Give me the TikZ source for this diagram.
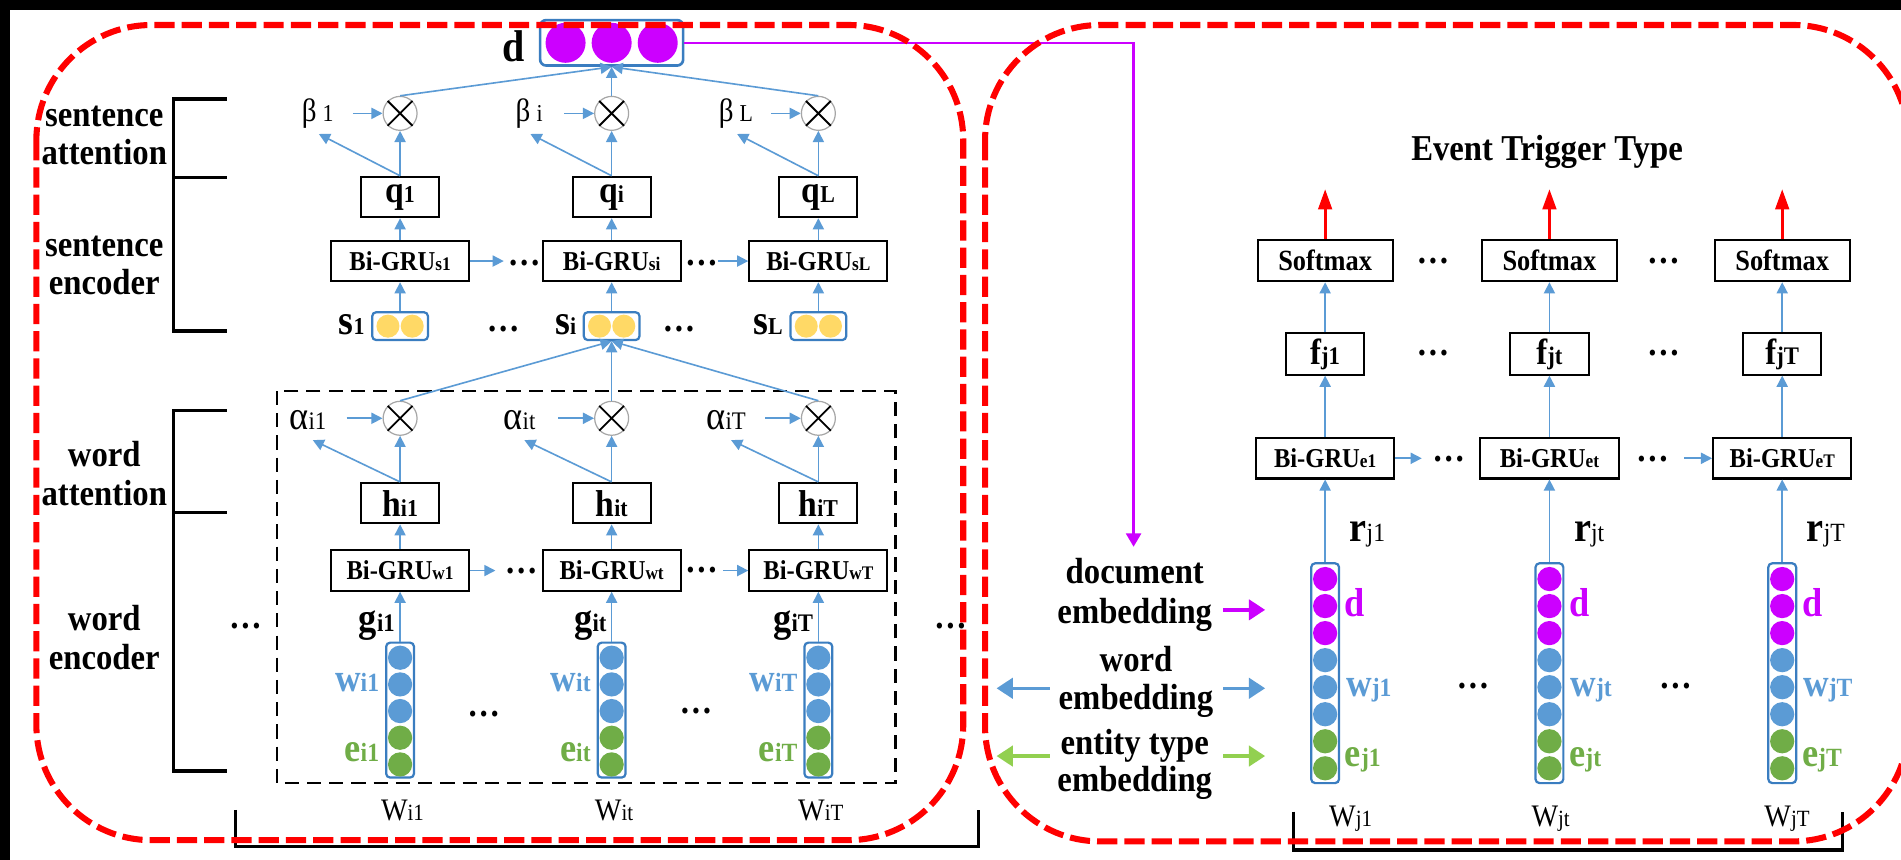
\documentclass[tikz,border=0pt]{standalone}
\usepackage{fontspec}
\setmainfont{Liberation Serif}[FakeStretch=0.9]
\usetikzlibrary{arrows.meta}
\definecolor{lblue}{HTML}{5B9BD5}
\definecolor{dblue}{HTML}{3A7DC0}
\definecolor{lgreen}{HTML}{70AD47}
\definecolor{lime}{HTML}{92D050}
\definecolor{mag}{HTML}{CC00FF}
\definecolor{lyellow}{HTML}{FFD966}
\definecolor{xgray}{HTML}{A6A6A6}
\newcommand\myfs[1]{\fontsize{#1}{#1}\selectfont}
\newcommand\mylab[4]{{\myfs{#1}#2}{\myfs{#3}#4}}
\tikzset{
  blk/.style={draw=black, line width=1pt, fill=white, inner sep=0pt, minimum height=20pt},
  vbox/.style={blk, minimum width=38.7pt, font=\bfseries},
  grubox/.style={blk, minimum width=68.4pt, font=\bfseries},
  smbox/.style={blk, minimum width=66.9pt, minimum height=20.4pt, font=\bfseries\myfs{14.5pt}},
  sbox/.style={draw=dblue, line width=1.1pt, rounded corners=2pt, minimum width=27.6pt, minimum height=13.8pt, inner sep=0pt},
  vecbox/.style={draw=dblue, line width=1.1pt, rounded corners=2pt, minimum width=13.8pt, inner sep=0pt},
  otim/.style={circle, draw=xgray, line width=0.6pt, fill=white, minimum size=16.8pt, inner sep=0pt},
  arr/.style={draw=lblue, line width=0.8pt, -{Triangle[length=5.5pt,width=5.5pt]}},
  redarr/.style={draw=red, line width=1.5pt, -{Triangle[length=10pt,width=6.7pt]}},
  legarr/.style={line width=1.7pt, -{Triangle[length=8pt,width=10pt]}},
  txt/.style={inner sep=0pt},
  side/.style={txt, anchor=base, font=\bfseries\myfs{18pt}},
  leg/.style={txt, anchor=base, font=\bfseries\myfs{18pt}},
  dots/.style={txt, anchor=base, font=\bfseries\myfs{18pt}},
  reddash/.style={draw=red, line width=3pt, dash pattern=on 10pt off 3.5pt, rounded corners=57pt},
  bracket/.style={draw=black, line width=1.6pt},
}
\begin{document}
\begin{tikzpicture}[x=0.6pt,y=-0.6pt]
\useasboundingbox (0,0) rectangle (1568,709);
\clip (0,0) rectangle (1568,709);
\fill[black] (0,0) rectangle (1568,709);
\fill[white] (8.5,8.5) rectangle (1572,712);

% side labels and brackets
\node[side] (lsa1) at (86,104.3) {sentence};
\node[side] (lsa2) at (86,135.7) {attention};
\node[side] (lse1) at (86,211.7) {sentence};
\node[side] (lse2) at (86,243.3) {encoder};
\node[side] (lwa1) at (86,384.7) {word};
\node[side] (lwa2) at (86,416.7) {attention};
\node[side] (lwe1) at (86,520.3) {word};
\node[side] (lwe2) at (86,552.4) {encoder};
\draw[bracket] (187,81.7) -- (143,81.7) -- (143,273) -- (187,273);
\draw[bracket] (143,146.5) -- (187,146.5);
\draw[bracket] (187,338.7) -- (143,338.7) -- (143,636) -- (187,636);
\draw[bracket] (143,423) -- (187,423);

% document vector
\node[draw=dblue, line width=1.3pt, rounded corners=3pt, minimum width=70.8pt, minimum height=22.5pt, inner sep=0pt] (dbox) at (504.5,35.3) {};
\foreach \dx in {-38,0,38} \fill[mag] ([xshift=\dx*0.6pt]dbox.center) circle[radius=9.9pt];
\node[txt, anchor=base, font=\bfseries\myfs{22pt}] (dlab) at (424,50.9) {d};

% word level dashed box
\draw[black, line width=1.2pt, dash pattern=on 7pt off 4pt] (228.4,322.5) rectangle (738.7,646);

% sentence level
\foreach \c/\n/\subtxt in {330/1/1,504.5/2/i,675/3/L}{
  \node[otim] (so\n) at (\c,93.5) {};
  \draw[line width=0.9pt] (so\n.north west) -- (so\n.south east) (so\n.north east) -- (so\n.south west);
  \node[vbox] (q\n) at (\c,162.5) {\mylab{18.5pt}{q}{12pt}{\subtxt}};
  \node[grubox] (sg\n) at (\c,215.3) {\mylab{13.5pt}{Bi-GRU}{9.5pt}{s\subtxt}};
  \node[sbox] (sv\n) at (\c,269) {};
  \fill[lyellow] ([xshift=-6pt]sv\n.center) circle[radius=5.7pt] ([xshift=6pt]sv\n.center) circle[radius=5.7pt];
  \node[txt, anchor=base east, font=\bfseries] (sl\n) at (\c-29,276) {\mylab{21pt}{s}{12pt}{\subtxt}};
  \node[txt, anchor=base] (b\n) at (\c-68,100.4) {{\myfs{16pt}β}\hspace{3pt}{\myfs{12pt}\subtxt}};
  \coordinate (bs\n) at (\c-39,93.5);
  \coordinate (bt\n) at (\c-67,110.5);
  \draw[arr] (sv\n.north) -- (sg\n.south);
  \draw[arr] (sg\n.north) -- (q\n.south);
  \draw[arr] (q\n.north) -- (so\n.south);
  \draw[arr] (q\n.north) -- (bt\n);
  \draw[arr] (bs\n) -- (so\n.west);
  \draw[arr] (so\n.north) -- (dbox.south);
}
\coordinate (sa1) at (415.5,215.3);
\coordinate (sa2) at (592,215.3);
\draw[arr] (sg1.east) -- (sa1);
\draw[arr] (sa2) -- (sg3.west);
\node[dots] (sd1) at (432.5,218.6) {…};
\node[dots] (sd2) at (578.5,218.6) {…};
\node[dots] (sd3) at (415,273.6) {…};
\node[dots] (sd4) at (560,273.6) {…};

% word level
\foreach \c/\n/\subtxt in {330/1/1,504.5/2/t,675/3/T}{
  \node[otim] (wo\n) at (\c,345) {};
  \draw[line width=0.9pt] (wo\n.north west) -- (wo\n.south east) (wo\n.north east) -- (wo\n.south west);
  \node[vbox] (hb\n) at (\c,415) {\mylab{18.5pt}{h}{12pt}{i\subtxt}};
  \node[grubox] (wg\n) at (\c,470.6) {\mylab{13.5pt}{Bi-GRU}{9.5pt}{w\subtxt}};
  \node[vecbox, minimum height=66.8pt] (wv\n) at (\c,585.7) {};
  \foreach \k/\col in {0/lblue,1/lblue,2/lblue,3/lgreen,4/lgreen}
    \fill[\col] (\c,542.5+22*\k) circle[radius=6pt];
  \node[txt, anchor=base east, font=\bfseries] (gl\n) at (\c-4,521) {\mylab{20pt}{g}{12.5pt}{i\subtxt}};
  \node[txt, anchor=base east, font=\bfseries, text=lblue] (wl\n) at (\c-17,570.5) {\mylab{19.5pt}{w}{13pt}{i\subtxt}};
  \node[txt, anchor=base east, font=\bfseries, text=lgreen] (el\n) at (\c-17,628) {\mylab{20pt}{e}{13pt}{i\subtxt}};
  \node[txt, anchor=base] (Wl\n) at (\c+2,676.5) {\mylab{15.5pt}{W}{11.5pt}{i\subtxt}};
  \node[txt, anchor=base] (al\n) at (\c-76,354.5) {\mylab{20pt}{α}{12.5pt}{i\subtxt}};
  \coordinate (as\n) at (\c-44,345);
  \coordinate (at\n) at (\c-72,363);
  \draw[arr] (wv\n.north) -- (wg\n.south);
  \draw[arr] (wg\n.north) -- (hb\n.south);
  \draw[arr] (hb\n.north) -- (wo\n.south);
  \draw[arr] (hb\n.north) -- (at\n);
  \draw[arr] (as\n) -- (wo\n.west);
  \draw[arr] (wo\n.north) -- (sv2.south);
}
\coordinate (wa1) at (408.6,470.6);
\coordinate (wa2) at (596.6,470.6);
\draw[arr] (wg1.east) -- (wa1);
\draw[arr] (wa2) -- (wg3.west);
\node[dots] (wd1) at (430,473) {…};
\node[dots] (wd2) at (578.6,472) {…};
\node[dots] (wd3) at (399,591) {…};
\node[dots] (wd4) at (574,588.5) {…};
\node[dots] (wd5) at (202.5,518) {…};
\node[dots] (wd6) at (784,518) {…};

% right part
\node[txt, anchor=base, font=\bfseries\myfs{18pt}] (title) at (1276,132) {Event Trigger Type};
\foreach \c/\n/\subtxt in {1093/1/1,1278/2/t,1470/3/T}{
  \node[smbox] (sm\n) at (\c,215) {Softmax};
  \coordinate (rt\n) at (\c,156);
  \draw[redarr] (sm\n.north) -- (rt\n);
  \node[vbox, minimum height=20.4pt] (fb\n) at (\c,292) {\mylab{18pt}{f}{12.5pt}{j\subtxt}};
  \node[grubox] (eg\n) at (\c,378) {\mylab{13.5pt}{Bi-GRU}{9.5pt}{e\subtxt}};
  \node[vecbox, minimum height=108.8pt] (rv\n) at (\c,555.25) {};
  \foreach \k/\col in {0/mag,1/mag,2/mag,3/lblue,4/lblue,5/lblue,6/lgreen,7/lgreen}
    \fill[\col] (\c,477.6+22.3*\k) circle[radius=6pt];
  \draw[arr] (rv\n.north) -- (eg\n.south);
  \draw[arr] (eg\n.north) -- (fb\n.south);
  \draw[arr] (fb\n.north) -- (sm\n.south);
  \node[txt, anchor=base west] (rl\n) at (\c+20,446.8) {{\bfseries\myfs{21pt}r}{\myfs{13pt}j\subtxt}};
  \node[txt, anchor=base west, font=\bfseries\myfs{20pt}, text=mag] (dl\n) at (\c+16,508.6) {d};
  \node[txt, anchor=base west, font=\bfseries, text=lblue] (wj\n) at (\c+17,574.6) {\mylab{19.5pt}{w}{13pt}{j\subtxt}};
  \node[txt, anchor=base west, font=\bfseries, text=lgreen] (ej\n) at (\c+16,632.4) {\mylab{20pt}{e}{13pt}{j\subtxt}};
}
\node[txt, anchor=base] (Wj1) at (1114,681.5) {\mylab{15.5pt}{W}{11.5pt}{j1}};
\node[txt, anchor=base] (Wj2) at (1279,681.5) {\mylab{15.5pt}{W}{11.5pt}{jt}};
\node[txt, anchor=base] (Wj3) at (1474,681.5) {\mylab{15.5pt}{W}{11.5pt}{jT}};
\coordinate (ea1) at (1172.7,378);
\coordinate (ea2) at (1389,378);
\draw[arr] (eg1.east) -- (ea1);
\draw[arr] (ea2) -- (eg3.west);
\node[dots] (rd1) at (1182,217) {…};
\node[dots] (rd2) at (1372,217) {…};
\node[dots] (rd3) at (1182,293.6) {…};
\node[dots] (rd4) at (1372,293.6) {…};
\node[dots] (rd5) at (1195,381) {…};
\node[dots] (rd6) at (1363,381) {…};
\node[dots] (rd7) at (1215,567.7) {…};
\node[dots] (rd8) at (1382,567.7) {…};

% legend
\node[leg] (lg1) at (936,481) {document};
\node[leg] (lg2) at (936,514) {embedding};
\node[leg] (lg3) at (937,554) {word};
\node[leg] (lg4) at (937,585.6) {embedding};
\node[leg] (lg5) at (936,622.7) {entity type};
\node[leg] (lg6) at (936,653) {embedding};
\coordinate (ma1) at (1009,503);   \coordinate (ma2) at (1043.5,503);
\coordinate (ba1) at (1009,567.7); \coordinate (ba2) at (1043.5,567.7);
\coordinate (ga1) at (1009,623.6); \coordinate (ga2) at (1043.5,623.6);
\coordinate (bl1) at (866,567.7);  \coordinate (bl2) at (822,567.7);
\coordinate (gl1) at (866,623.6);  \coordinate (gl2) at (822,623.6);
\draw[legarr, mag] (ma1) -- (ma2);
\draw[legarr, lblue] (ba1) -- (ba2);
\draw[legarr, lime] (ga1) -- (ga2);
\draw[legarr, lblue] (bl1) -- (bl2);
\draw[legarr, lime] (gl1) -- (gl2);

% document connector
\coordinate (docin) at (935,451);
\draw[mag, line width=1.2pt, -{Triangle[length=6.6pt,width=7.4pt]}] (dbox.east) -| (docin);

% bottom brackets
\draw[bracket] (194,668) -- (194,698) -- (807,698) -- (807,668);
\draw[bracket] (1067,669.5) -- (1067,701) -- (1519.6,701) -- (1519.6,669.5);

% red dashed regions
\draw[reddash] (30,20.6) rectangle (794.5,693);
\draw[reddash] (812.5,20.6) rectangle (1574,694);
\end{tikzpicture}
\end{document}
